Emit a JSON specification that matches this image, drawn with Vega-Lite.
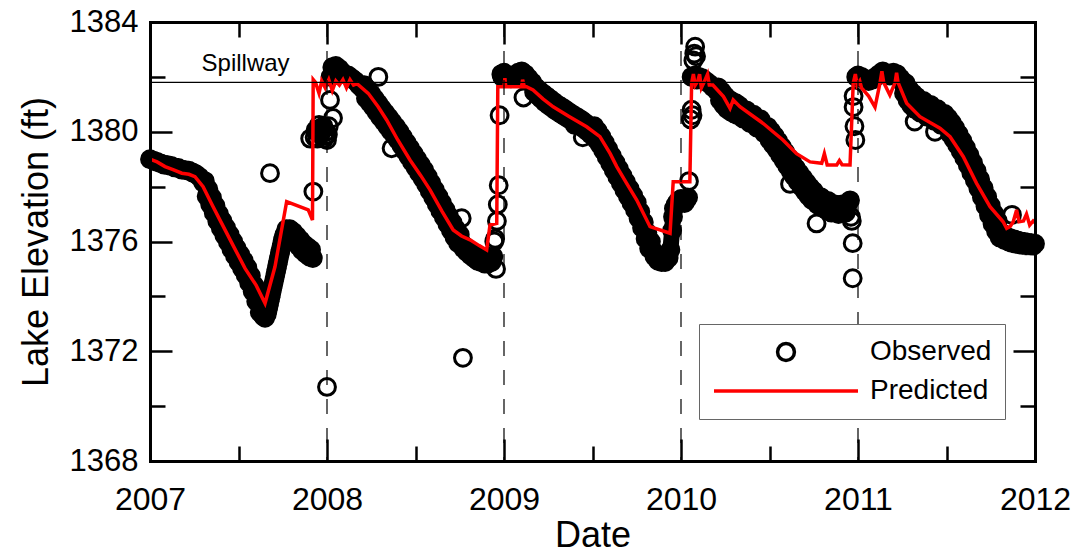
{
  "$schema": "https://vega.github.io/schema/vega-lite/v6.json",
  "width": 885,
  "height": 439,
  "autosize": "none",
  "padding": {"left": 150, "top": 22, "right": 47, "bottom": 93},
  "background": "white",
  "config": {
    "view": {"stroke": null},
    "font": "Liberation Sans"
  },
  "datasets": {
    "observed": [
      {"t":2007.00,"v":1379.00,"c":"2007"},{"t":2007.02,"v":1378.95,"c":"2007"},{"t":2007.04,"v":1378.90,"c":"2007"},{"t":2007.06,"v":1378.85,"c":"2007"},
      {"t":2007.08,"v":1378.80,"c":"2007"},{"t":2007.10,"v":1378.78,"c":"2007"},{"t":2007.12,"v":1378.75,"c":"2007"},{"t":2007.14,"v":1378.70,"c":"2007"},
      {"t":2007.16,"v":1378.68,"c":"2007"},{"t":2007.18,"v":1378.62,"c":"2007"},{"t":2007.20,"v":1378.60,"c":"2007"},{"t":2007.22,"v":1378.58,"c":"2007"},
      {"t":2007.24,"v":1378.52,"c":"2007"},{"t":2007.26,"v":1378.45,"c":"2007"},{"t":2007.28,"v":1378.35,"c":"2007"},{"t":2007.30,"v":1378.15,"c":"2007"},
      {"t":2007.31,"v":1378.20,"c":"2007"},{"t":2007.32,"v":1377.65,"c":"2007"},{"t":2007.33,"v":1377.90,"c":"2007"},{"t":2007.34,"v":1377.35,"c":"2007"},
      {"t":2007.35,"v":1377.60,"c":"2007"},{"t":2007.36,"v":1377.05,"c":"2007"},{"t":2007.37,"v":1377.30,"c":"2007"},{"t":2007.38,"v":1376.75,"c":"2007"},
      {"t":2007.39,"v":1377.00,"c":"2007"},{"t":2007.40,"v":1376.48,"c":"2007"},{"t":2007.41,"v":1376.75,"c":"2007"},{"t":2007.42,"v":1376.22,"c":"2007"},
      {"t":2007.43,"v":1376.50,"c":"2007"},{"t":2007.44,"v":1375.98,"c":"2007"},{"t":2007.45,"v":1376.25,"c":"2007"},{"t":2007.46,"v":1375.72,"c":"2007"},
      {"t":2007.47,"v":1376.00,"c":"2007"},{"t":2007.48,"v":1375.48,"c":"2007"},{"t":2007.49,"v":1375.75,"c":"2007"},{"t":2007.50,"v":1375.25,"c":"2007"},
      {"t":2007.51,"v":1375.53,"c":"2007"},{"t":2007.52,"v":1375.02,"c":"2007"},{"t":2007.53,"v":1375.30,"c":"2007"},{"t":2007.54,"v":1374.78,"c":"2007"},
      {"t":2007.55,"v":1375.05,"c":"2007"},{"t":2007.56,"v":1374.50,"c":"2007"},{"t":2007.57,"v":1374.75,"c":"2007"},{"t":2007.58,"v":1374.18,"c":"2007"},
      {"t":2007.59,"v":1374.40,"c":"2007"},{"t":2007.60,"v":1373.82,"c":"2007"},{"t":2007.61,"v":1374.02,"c":"2007"},{"t":2007.62,"v":1373.42,"c":"2007"},
      {"t":2007.63,"v":1373.62,"c":"2007"},{"t":2007.64,"v":1373.28,"c":"2007"},{"t":2007.65,"v":1373.22,"c":"2007"},{"t":2007.66,"v":1373.35,"c":"2007"},
      {"t":2007.665,"v":1373.50,"c":"2007"},{"t":2007.670,"v":1373.65,"c":"2007"},{"t":2007.675,"v":1373.80,"c":"2007"},{"t":2007.680,"v":1373.95,"c":"2007"},
      {"t":2007.685,"v":1374.10,"c":"2007"},{"t":2007.690,"v":1374.25,"c":"2007"},{"t":2007.695,"v":1374.40,"c":"2007"},{"t":2007.700,"v":1374.55,"c":"2007"},
      {"t":2007.705,"v":1374.70,"c":"2007"},{"t":2007.710,"v":1374.85,"c":"2007"},{"t":2007.715,"v":1375.00,"c":"2007"},{"t":2007.720,"v":1375.15,"c":"2007"},
      {"t":2007.725,"v":1375.30,"c":"2007"},{"t":2007.730,"v":1375.45,"c":"2007"},{"t":2007.735,"v":1375.60,"c":"2007"},{"t":2007.740,"v":1375.75,"c":"2007"},
      {"t":2007.745,"v":1375.90,"c":"2007"},{"t":2007.750,"v":1376.05,"c":"2007"},{"t":2007.755,"v":1376.15,"c":"2007"},{"t":2007.760,"v":1376.25,"c":"2007"},
      {"t":2007.77,"v":1376.45,"c":"2007"},{"t":2007.78,"v":1376.17,"c":"2007"},{"t":2007.79,"v":1376.45,"c":"2007"},{"t":2007.80,"v":1376.10,"c":"2007"},
      {"t":2007.81,"v":1376.35,"c":"2007"},{"t":2007.82,"v":1375.97,"c":"2007"},{"t":2007.83,"v":1376.20,"c":"2007"},{"t":2007.84,"v":1375.83,"c":"2007"},
      {"t":2007.85,"v":1376.05,"c":"2007"},{"t":2007.86,"v":1375.67,"c":"2007"},{"t":2007.87,"v":1375.90,"c":"2007"},{"t":2007.88,"v":1375.55,"c":"2007"},
      {"t":2007.89,"v":1375.80,"c":"2007"},{"t":2007.90,"v":1375.45,"c":"2007"},{"t":2007.91,"v":1375.70,"c":"2007"},{"t":2007.92,"v":1375.40,"c":"2007"},
      {"t":2007.93,"v":1379.80},{"t":2007.935,"v":1380.05},{"t":2007.94,"v":1380.00},{"t":2007.945,"v":1379.75},
      {"t":2007.95,"v":1380.10},{"t":2007.955,"v":1380.25},{"t":2007.96,"v":1379.90},{"t":2007.965,"v":1379.95},
      {"t":2007.97,"v":1380.00},{"t":2007.975,"v":1380.15},{"t":2007.98,"v":1380.20},{"t":2007.985,"v":1379.75},
      {"t":2007.99,"v":1379.85},{"t":2007.995,"v":1380.00},{"t":2008.00,"v":1379.70},{"t":2008.005,"v":1379.90},
      {"t":2008.01,"v":1380.20},{"t":2008.017,"v":1381.16},{"t":2008.034,"v":1380.50},
      {"t":2008.02,"v":1382.00,"c":"2008"},{"t":2008.03,"v":1382.35,"c":"2008"},{"t":2008.04,"v":1382.25,"c":"2008"},{"t":2008.05,"v":1382.40,"c":"2008"},
      {"t":2008.06,"v":1382.15,"c":"2008"},{"t":2008.07,"v":1382.30,"c":"2008"},{"t":2008.08,"v":1382.20,"c":"2008"},{"t":2008.10,"v":1382.10,"c":"2008"},
      {"t":2008.12,"v":1382.05,"c":"2008"},{"t":2008.14,"v":1381.95,"c":"2008"},{"t":2008.16,"v":1381.85,"c":"2008"},{"t":2008.18,"v":1381.70,"c":"2008"},
      {"t":2008.19,"v":1381.65,"c":"2008"},{"t":2008.20,"v":1381.58,"c":"2008"},{"t":2008.21,"v":1381.70,"c":"2008"},{"t":2008.22,"v":1381.22,"c":"2008"},
      {"t":2008.23,"v":1381.55,"c":"2008"},{"t":2008.24,"v":1381.07,"c":"2008"},{"t":2008.25,"v":1381.38,"c":"2008"},{"t":2008.26,"v":1380.90,"c":"2008"},
      {"t":2008.27,"v":1381.20,"c":"2008"},{"t":2008.28,"v":1380.72,"c":"2008"},{"t":2008.29,"v":1381.03,"c":"2008"},{"t":2008.30,"v":1380.54,"c":"2008"},
      {"t":2008.31,"v":1380.85,"c":"2008"},{"t":2008.32,"v":1380.37,"c":"2008"},{"t":2008.33,"v":1380.68,"c":"2008"},{"t":2008.34,"v":1380.20,"c":"2008"},
      {"t":2008.35,"v":1380.52,"c":"2008"},{"t":2008.36,"v":1380.03,"c":"2008"},{"t":2008.37,"v":1380.35,"c":"2008"},{"t":2008.38,"v":1379.86,"c":"2008"},
      {"t":2008.39,"v":1380.18,"c":"2008"},{"t":2008.40,"v":1379.70,"c":"2008"},{"t":2008.41,"v":1380.00,"c":"2008"},{"t":2008.42,"v":1379.50,"c":"2008"},
      {"t":2008.43,"v":1379.80,"c":"2008"},{"t":2008.44,"v":1379.30,"c":"2008"},{"t":2008.45,"v":1379.60,"c":"2008"},{"t":2008.46,"v":1379.10,"c":"2008"},
      {"t":2008.47,"v":1379.40,"c":"2008"},{"t":2008.48,"v":1378.90,"c":"2008"},{"t":2008.49,"v":1379.20,"c":"2008"},{"t":2008.50,"v":1378.70,"c":"2008"},
      {"t":2008.51,"v":1379.00,"c":"2008"},{"t":2008.52,"v":1378.50,"c":"2008"},{"t":2008.53,"v":1378.80,"c":"2008"},{"t":2008.54,"v":1378.30,"c":"2008"},
      {"t":2008.55,"v":1378.60,"c":"2008"},{"t":2008.56,"v":1378.08,"c":"2008"},{"t":2008.57,"v":1378.36,"c":"2008"},{"t":2008.58,"v":1377.84,"c":"2008"},
      {"t":2008.59,"v":1378.12,"c":"2008"},{"t":2008.60,"v":1377.60,"c":"2008"},{"t":2008.61,"v":1377.88,"c":"2008"},{"t":2008.62,"v":1377.36,"c":"2008"},
      {"t":2008.63,"v":1377.64,"c":"2008"},{"t":2008.64,"v":1377.12,"c":"2008"},{"t":2008.65,"v":1377.40,"c":"2008"},{"t":2008.66,"v":1376.88,"c":"2008"},
      {"t":2008.67,"v":1377.16,"c":"2008"},{"t":2008.68,"v":1376.64,"c":"2008"},{"t":2008.69,"v":1376.92,"c":"2008"},{"t":2008.70,"v":1376.40,"c":"2008"},
      {"t":2008.71,"v":1376.68,"c":"2008"},{"t":2008.72,"v":1376.16,"c":"2008"},{"t":2008.73,"v":1376.45,"c":"2008"},{"t":2008.74,"v":1375.95,"c":"2008"},
      {"t":2008.75,"v":1376.25,"c":"2008"},{"t":2008.76,"v":1375.96,"c":"2008"},{"t":2008.77,"v":1375.75,"c":"2008"},{"t":2008.78,"v":1375.82,"c":"2008"},
      {"t":2008.79,"v":1375.62,"c":"2008"},{"t":2008.80,"v":1375.70,"c":"2008"},{"t":2008.81,"v":1375.50,"c":"2008"},{"t":2008.82,"v":1375.60,"c":"2008"},
      {"t":2008.83,"v":1375.40,"c":"2008"},{"t":2008.84,"v":1375.52,"c":"2008"},{"t":2008.85,"v":1375.30,"c":"2008"},{"t":2008.86,"v":1375.45,"c":"2008"},
      {"t":2008.87,"v":1375.25,"c":"2008"},{"t":2008.88,"v":1375.40,"c":"2008"},{"t":2008.89,"v":1375.20,"c":"2008"},{"t":2008.90,"v":1375.35,"c":"2008"},
      {"t":2008.91,"v":1375.20,"c":"2008"},{"t":2008.92,"v":1375.35,"c":"2008"},{"t":2008.93,"v":1375.25,"c":"2008"},{"t":2008.94,"v":1375.45,"c":"2008"},
      {"t":2008.945,"v":1376.00},{"t":2008.950,"v":1376.10},{"t":2008.955,"v":1375.00},{"t":2008.960,"v":1376.75},
      {"t":2008.965,"v":1377.35},{"t":2008.970,"v":1378.05},{"t":2008.975,"v":1380.60},{"t":2008.985,"v":1382.10},
      {"t":2008.99,"v":1382.00,"c":"2009"},{"t":2009.00,"v":1382.15,"c":"2009"},{"t":2009.02,"v":1382.05,"c":"2009"},{"t":2009.04,"v":1381.95,"c":"2009"},
      {"t":2009.06,"v":1382.00,"c":"2009"},{"t":2009.08,"v":1382.15,"c":"2009"},{"t":2009.10,"v":1382.20,"c":"2009"},{"t":2009.11,"v":1381.25},
      {"t":2009.12,"v":1382.10,"c":"2009"},{"t":2009.14,"v":1381.95,"c":"2009"},{"t":2009.16,"v":1381.80,"c":"2009"},{"t":2009.18,"v":1381.62,"c":"2009"},
      {"t":2009.17,"v":1381.45,"c":"2009"},{"t":2009.19,"v":1381.32,"c":"2009"},{"t":2009.21,"v":1381.20,"c":"2009"},{"t":2009.23,"v":1381.08,"c":"2009"},
      {"t":2009.25,"v":1380.98,"c":"2009"},{"t":2009.27,"v":1380.88,"c":"2009"},{"t":2009.29,"v":1380.78,"c":"2009"},{"t":2009.31,"v":1380.70,"c":"2009"},
      {"t":2009.33,"v":1380.62,"c":"2009"},{"t":2009.35,"v":1380.54,"c":"2009"},{"t":2009.37,"v":1380.46,"c":"2009"},{"t":2009.39,"v":1380.38,"c":"2009"},
      {"t":2009.41,"v":1380.30,"c":"2009"},{"t":2009.43,"v":1380.22,"c":"2009"},{"t":2009.45,"v":1380.12,"c":"2009"},{"t":2009.47,"v":1380.02,"c":"2009"},
      {"t":2009.49,"v":1379.90,"c":"2009"},
      {"t":2009.20,"v":1381.50,"c":"2009"},{"t":2009.22,"v":1381.40,"c":"2009"},{"t":2009.24,"v":1381.30,"c":"2009"},{"t":2009.26,"v":1381.20,"c":"2009"},
      {"t":2009.28,"v":1381.10,"c":"2009"},{"t":2009.30,"v":1381.00,"c":"2009"},{"t":2009.32,"v":1380.92,"c":"2009"},{"t":2009.34,"v":1380.84,"c":"2009"},
      {"t":2009.36,"v":1380.75,"c":"2009"},{"t":2009.38,"v":1380.66,"c":"2009"},{"t":2009.40,"v":1380.58,"c":"2009"},{"t":2009.42,"v":1380.50,"c":"2009"},
      {"t":2009.44,"v":1380.42,"c":"2009"},{"t":2009.46,"v":1380.32,"c":"2009"},{"t":2009.48,"v":1380.20,"c":"2009"},{"t":2009.50,"v":1380.08,"c":"2009"},
      {"t":2009.51,"v":1380.20,"c":"2009"},{"t":2009.52,"v":1379.72,"c":"2009"},{"t":2009.53,"v":1380.03,"c":"2009"},{"t":2009.54,"v":1379.54,"c":"2009"},
      {"t":2009.55,"v":1379.83,"c":"2009"},{"t":2009.56,"v":1379.32,"c":"2009"},{"t":2009.57,"v":1379.60,"c":"2009"},{"t":2009.58,"v":1379.08,"c":"2009"},
      {"t":2009.59,"v":1379.36,"c":"2009"},{"t":2009.60,"v":1378.84,"c":"2009"},{"t":2009.61,"v":1379.12,"c":"2009"},{"t":2009.62,"v":1378.60,"c":"2009"},
      {"t":2009.63,"v":1378.88,"c":"2009"},{"t":2009.64,"v":1378.36,"c":"2009"},{"t":2009.65,"v":1378.64,"c":"2009"},{"t":2009.66,"v":1378.12,"c":"2009"},
      {"t":2009.67,"v":1378.40,"c":"2009"},{"t":2009.68,"v":1377.88,"c":"2009"},{"t":2009.69,"v":1378.16,"c":"2009"},{"t":2009.70,"v":1377.64,"c":"2009"},
      {"t":2009.71,"v":1377.92,"c":"2009"},{"t":2009.72,"v":1377.40,"c":"2009"},{"t":2009.73,"v":1377.68,"c":"2009"},{"t":2009.74,"v":1377.16,"c":"2009"},
      {"t":2009.75,"v":1377.42,"c":"2009"},{"t":2009.76,"v":1376.85,"c":"2009"},{"t":2009.77,"v":1377.08,"c":"2009"},{"t":2009.78,"v":1376.50,"c":"2009"},
      {"t":2009.79,"v":1376.70,"c":"2009"},{"t":2009.80,"v":1376.10,"c":"2009"},{"t":2009.81,"v":1376.32,"c":"2009"},{"t":2009.82,"v":1375.75,"c":"2009"},
      {"t":2009.83,"v":1376.00,"c":"2009"},{"t":2009.84,"v":1375.68,"c":"2009"},{"t":2009.85,"v":1375.45,"c":"2009"},{"t":2009.86,"v":1375.52,"c":"2009"},
      {"t":2009.87,"v":1375.30,"c":"2009"},{"t":2009.88,"v":1375.42,"c":"2009"},{"t":2009.89,"v":1375.25,"c":"2009"},{"t":2009.90,"v":1375.38,"c":"2009"},
      {"t":2009.91,"v":1375.25,"c":"2009"},{"t":2009.92,"v":1375.42,"c":"2009"},{"t":2009.93,"v":1375.40,"c":"2009"},{"t":2009.94,"v":1375.70,"c":"2009"},
      {"t":2009.95,"v":1376.40,"c":"2009"},{"t":2009.955,"v":1376.90,"c":"2009"},{"t":2009.96,"v":1377.20,"c":"2009"},{"t":2009.97,"v":1377.35,"c":"2009"},
      {"t":2009.98,"v":1377.45,"c":"2009"},{"t":2009.99,"v":1377.50,"c":"2009"},{"t":2010.00,"v":1377.55,"c":"2009"},{"t":2010.01,"v":1377.45,"c":"2009"},
      {"t":2010.02,"v":1377.40,"c":"2009"},{"t":2010.03,"v":1377.50,"c":"2009"},{"t":2010.04,"v":1377.60,"c":"2009"},{"t":2010.045,"v":1378.20},
      {"t":2010.055,"v":1380.45},{"t":2010.06,"v":1380.80},{"t":2010.065,"v":1380.60},{"t":2010.07,"v":1382.60},
      {"t":2010.075,"v":1382.85},{"t":2010.08,"v":1383.10},{"t":2010.085,"v":1382.75},
      {"t":2010.06,"v":1382.00,"c":"2010"},{"t":2010.08,"v":1382.05,"c":"2010"},{"t":2010.09,"v":1381.90,"c":"2010"},{"t":2010.10,"v":1382.00,"c":"2010"},
      {"t":2010.12,"v":1381.95,"c":"2010"},{"t":2010.14,"v":1381.85,"c":"2010"},{"t":2010.16,"v":1381.75,"c":"2010"},{"t":2010.18,"v":1381.62,"c":"2010"},
      {"t":2010.20,"v":1381.50,"c":"2010"},{"t":2010.21,"v":1381.62,"c":"2010"},{"t":2010.22,"v":1381.15,"c":"2010"},{"t":2010.23,"v":1381.47,"c":"2010"},
      {"t":2010.24,"v":1380.98,"c":"2010"},{"t":2010.25,"v":1381.30,"c":"2010"},{"t":2010.26,"v":1380.83,"c":"2010"},{"t":2010.27,"v":1381.18,"c":"2010"},
      {"t":2010.28,"v":1380.74,"c":"2010"},{"t":2010.29,"v":1381.10,"c":"2010"},{"t":2010.30,"v":1380.67,"c":"2010"},{"t":2010.31,"v":1381.04,"c":"2010"},
      {"t":2010.32,"v":1380.60,"c":"2010"},{"t":2010.33,"v":1380.95,"c":"2010"},{"t":2010.34,"v":1380.72,"c":"2010"},{"t":2010.35,"v":1380.48,"c":"2010"},
      {"t":2010.36,"v":1380.64,"c":"2010"},{"t":2010.37,"v":1380.78,"c":"2010"},{"t":2010.38,"v":1380.55,"c":"2010"},{"t":2010.39,"v":1380.32,"c":"2010"},
      {"t":2010.40,"v":1380.47,"c":"2010"},{"t":2010.41,"v":1380.62,"c":"2010"},{"t":2010.42,"v":1380.38,"c":"2010"},{"t":2010.43,"v":1380.15,"c":"2010"},
      {"t":2010.44,"v":1380.29,"c":"2010"},{"t":2010.45,"v":1380.45,"c":"2010"},{"t":2010.46,"v":1380.18,"c":"2010"},{"t":2010.47,"v":1379.95,"c":"2010"},
      {"t":2010.48,"v":1380.06,"c":"2010"},{"t":2010.49,"v":1380.18,"c":"2010"},{"t":2010.50,"v":1379.70,"c":"2010"},{"t":2010.51,"v":1380.02,"c":"2010"},
      {"t":2010.52,"v":1379.53,"c":"2010"},{"t":2010.53,"v":1379.84,"c":"2010"},{"t":2010.54,"v":1379.35,"c":"2010"},{"t":2010.55,"v":1379.65,"c":"2010"},
      {"t":2010.56,"v":1379.15,"c":"2010"},{"t":2010.57,"v":1379.45,"c":"2010"},{"t":2010.58,"v":1378.95,"c":"2010"},{"t":2010.59,"v":1379.25,"c":"2010"},
      {"t":2010.60,"v":1378.75,"c":"2010"},{"t":2010.61,"v":1379.05,"c":"2010"},{"t":2010.62,"v":1378.55,"c":"2010"},{"t":2010.63,"v":1378.85,"c":"2010"},
      {"t":2010.64,"v":1378.36,"c":"2010"},{"t":2010.65,"v":1378.67,"c":"2010"},{"t":2010.66,"v":1378.18,"c":"2010"},{"t":2010.67,"v":1378.49,"c":"2010"},
      {"t":2010.68,"v":1378.00,"c":"2010"},{"t":2010.69,"v":1378.31,"c":"2010"},{"t":2010.70,"v":1377.82,"c":"2010"},{"t":2010.71,"v":1378.14,"c":"2010"},
      {"t":2010.72,"v":1377.66,"c":"2010"},{"t":2010.73,"v":1377.98,"c":"2010"},{"t":2010.74,"v":1377.51,"c":"2010"},{"t":2010.75,"v":1377.84,"c":"2010"},
      {"t":2010.76,"v":1377.57,"c":"2010"},{"t":2010.77,"v":1377.35,"c":"2010"},{"t":2010.78,"v":1377.47,"c":"2010"},{"t":2010.79,"v":1377.62,"c":"2010"},
      {"t":2010.80,"v":1377.38,"c":"2010"},{"t":2010.81,"v":1377.20,"c":"2010"},{"t":2010.82,"v":1377.30,"c":"2010"},{"t":2010.83,"v":1377.48,"c":"2010"},
      {"t":2010.84,"v":1377.23,"c":"2010"},{"t":2010.85,"v":1377.05,"c":"2010"},{"t":2010.86,"v":1377.18,"c":"2010"},{"t":2010.87,"v":1377.35,"c":"2010"},
      {"t":2010.88,"v":1377.14,"c":"2010"},{"t":2010.89,"v":1377.00,"c":"2010"},{"t":2010.90,"v":1377.15,"c":"2010"},{"t":2010.91,"v":1377.35,"c":"2010"},
      {"t":2010.92,"v":1377.20,"c":"2010"},{"t":2010.93,"v":1377.05,"c":"2010"},{"t":2010.94,"v":1377.30,"c":"2010"},{"t":2010.955,"v":1377.50,"c":"2010"},
      {"t":2010.616,"v":1378.10},{"t":2010.766,"v":1376.66},{"t":2010.96,"v":1376.90},{"t":2010.965,"v":1376.75},
      {"t":2010.97,"v":1375.94},{"t":2010.97,"v":1374.66},
      {"t":2010.975,"v":1380.90},{"t":2010.98,"v":1380.20},{"t":2010.985,"v":1379.70},{"t":2010.975,"v":1381.30},
      {"t":2010.99,"v":1382.00,"c":"2011"},{"t":2011.00,"v":1382.05,"c":"2011"},{"t":2011.02,"v":1382.00,"c":"2011"},{"t":2011.04,"v":1381.90,"c":"2011"},
      {"t":2011.06,"v":1381.85,"c":"2011"},{"t":2011.08,"v":1381.90,"c":"2011"},{"t":2011.10,"v":1382.00,"c":"2011"},{"t":2011.12,"v":1382.10,"c":"2011"},
      {"t":2011.14,"v":1382.20,"c":"2011"},{"t":2011.16,"v":1382.10,"c":"2011"},{"t":2011.18,"v":1382.05,"c":"2011"},{"t":2011.20,"v":1382.15,"c":"2011"},
      {"t":2011.22,"v":1382.10,"c":"2011"},{"t":2011.24,"v":1381.95,"c":"2011"},{"t":2011.25,"v":1381.80,"c":"2011"},{"t":2011.26,"v":1381.40,"c":"2011"},
      {"t":2011.27,"v":1381.77,"c":"2011"},{"t":2011.28,"v":1381.15,"c":"2011"},{"t":2011.29,"v":1381.55,"c":"2011"},{"t":2011.30,"v":1380.97,"c":"2011"},
      {"t":2011.31,"v":1381.40,"c":"2011"},{"t":2011.32,"v":1380.83,"c":"2011"},{"t":2011.33,"v":1381.28,"c":"2011"},{"t":2011.34,"v":1380.98,"c":"2011"},
      {"t":2011.35,"v":1380.70,"c":"2011"},{"t":2011.36,"v":1380.90,"c":"2011"},{"t":2011.37,"v":1381.12,"c":"2011"},{"t":2011.38,"v":1380.82,"c":"2011"},
      {"t":2011.39,"v":1380.55,"c":"2011"},{"t":2011.40,"v":1380.74,"c":"2011"},{"t":2011.41,"v":1380.98,"c":"2011"},{"t":2011.42,"v":1380.66,"c":"2011"},
      {"t":2011.43,"v":1380.40,"c":"2011"},{"t":2011.44,"v":1380.58,"c":"2011"},{"t":2011.45,"v":1380.82,"c":"2011"},{"t":2011.46,"v":1380.50,"c":"2011"},
      {"t":2011.47,"v":1380.25,"c":"2011"},{"t":2011.48,"v":1380.42,"c":"2011"},{"t":2011.49,"v":1380.65,"c":"2011"},{"t":2011.50,"v":1380.32,"c":"2011"},
      {"t":2011.51,"v":1380.50,"c":"2011"},{"t":2011.52,"v":1379.92,"c":"2011"},{"t":2011.53,"v":1380.33,"c":"2011"},{"t":2011.54,"v":1379.73,"c":"2011"},
      {"t":2011.55,"v":1380.13,"c":"2011"},{"t":2011.56,"v":1379.52,"c":"2011"},{"t":2011.57,"v":1379.91,"c":"2011"},{"t":2011.58,"v":1379.29,"c":"2011"},
      {"t":2011.59,"v":1379.67,"c":"2011"},{"t":2011.60,"v":1379.05,"c":"2011"},{"t":2011.61,"v":1379.42,"c":"2011"},{"t":2011.62,"v":1378.79,"c":"2011"},
      {"t":2011.63,"v":1379.15,"c":"2011"},{"t":2011.64,"v":1378.51,"c":"2011"},{"t":2011.65,"v":1378.87,"c":"2011"},{"t":2011.66,"v":1378.23,"c":"2011"},
      {"t":2011.67,"v":1378.58,"c":"2011"},{"t":2011.68,"v":1377.93,"c":"2011"},{"t":2011.69,"v":1378.27,"c":"2011"},{"t":2011.70,"v":1377.61,"c":"2011"},
      {"t":2011.71,"v":1377.95,"c":"2011"},{"t":2011.72,"v":1377.29,"c":"2011"},{"t":2011.73,"v":1377.63,"c":"2011"},{"t":2011.74,"v":1376.97,"c":"2011"},
      {"t":2011.75,"v":1377.31,"c":"2011"},{"t":2011.76,"v":1376.65,"c":"2011"},{"t":2011.77,"v":1377.01,"c":"2011"},{"t":2011.78,"v":1376.37,"c":"2011"},
      {"t":2011.79,"v":1376.75,"c":"2011"},{"t":2011.80,"v":1376.15,"c":"2011"},{"t":2011.81,"v":1376.32,"c":"2011"},{"t":2011.82,"v":1376.26,"c":"2011"},
      {"t":2011.83,"v":1376.05,"c":"2011"},{"t":2011.84,"v":1376.18,"c":"2011"},{"t":2011.85,"v":1376.00,"c":"2011"},{"t":2011.86,"v":1376.12,"c":"2011"},
      {"t":2011.87,"v":1375.95,"c":"2011"},{"t":2011.88,"v":1376.08,"c":"2011"},{"t":2011.89,"v":1375.92,"c":"2011"},{"t":2011.90,"v":1376.04,"c":"2011"},
      {"t":2011.91,"v":1375.90,"c":"2011"},{"t":2011.92,"v":1376.00,"c":"2011"},{"t":2011.93,"v":1375.88,"c":"2011"},{"t":2011.94,"v":1375.98,"c":"2011"},
      {"t":2011.95,"v":1375.86,"c":"2011"},{"t":2011.96,"v":1375.96,"c":"2011"},{"t":2011.97,"v":1375.86,"c":"2011"},{"t":2011.98,"v":1375.94,"c":"2011"},
      {"t":2011.99,"v":1375.85,"c":"2011"},{"t":2012.00,"v":1375.92,"c":"2011"},
      {"t":2007.678,"v":1378.49},{"t":2007.923,"v":1377.82},{"t":2007.905,"v":1379.75},
      {"t":2008.00,"v":1370.70},{"t":2008.768,"v":1371.76},{"t":2008.761,"v":1376.85},{"t":2008.29,"v":1382.00},
      {"t":2008.365,"v":1379.40},{"t":2009.40,"v":1380.25},{"t":2009.445,"v":1379.80},
      {"t":2011.32,"v":1380.37},{"t":2011.435,"v":1380.00},{"t":2011.87,"v":1376.97}
    ],
    "predicted": [
      {"t":2007.000,"v":1379.00},{"t":2007.040,"v":1378.90},{"t":2007.085,"v":1378.73},{"t":2007.130,"v":1378.62},
      {"t":2007.180,"v":1378.49},{"t":2007.220,"v":1378.45},{"t":2007.254,"v":1378.36},{"t":2007.300,"v":1378.00},
      {"t":2007.350,"v":1377.35},{"t":2007.405,"v":1376.66},{"t":2007.470,"v":1375.85},{"t":2007.537,"v":1375.02},
      {"t":2007.600,"v":1374.40},{"t":2007.650,"v":1373.75},{"t":2007.706,"v":1375.08},{"t":2007.740,"v":1376.30},
      {"t":2007.772,"v":1377.45},{"t":2007.894,"v":1377.15},{"t":2007.918,"v":1376.78},{"t":2007.922,"v":1381.90},
      {"t":2007.935,"v":1381.80},{"t":2007.955,"v":1381.40},{"t":2007.970,"v":1381.85},{"t":2007.990,"v":1381.60},
      {"t":2008.010,"v":1381.90},{"t":2008.030,"v":1381.50},{"t":2008.050,"v":1381.85},{"t":2008.070,"v":1381.70},
      {"t":2008.090,"v":1381.90},{"t":2008.110,"v":1381.60},{"t":2008.130,"v":1381.90},{"t":2008.150,"v":1381.70},
      {"t":2008.170,"v":1381.75},{"t":2008.233,"v":1381.40},{"t":2008.290,"v":1380.90},{"t":2008.337,"v":1380.43},
      {"t":2008.400,"v":1379.70},{"t":2008.469,"v":1378.97},{"t":2008.530,"v":1378.40},{"t":2008.582,"v":1377.88},
      {"t":2008.650,"v":1377.10},{"t":2008.713,"v":1376.42},{"t":2008.760,"v":1376.20},{"t":2008.808,"v":1376.06},
      {"t":2008.860,"v":1375.85},{"t":2008.902,"v":1375.69},{"t":2008.921,"v":1376.60},{"t":2008.959,"v":1376.66},
      {"t":2008.965,"v":1381.64},{"t":2009.000,"v":1381.64},{"t":2009.005,"v":1381.95},{"t":2009.010,"v":1381.64},
      {"t":2009.100,"v":1381.64},{"t":2009.105,"v":1381.90},{"t":2009.115,"v":1381.64},{"t":2009.127,"v":1381.64},
      {"t":2009.164,"v":1381.52},{"t":2009.220,"v":1381.20},{"t":2009.278,"v":1380.91},{"t":2009.370,"v":1380.55},
      {"t":2009.467,"v":1380.18},{"t":2009.542,"v":1379.82},{"t":2009.600,"v":1379.20},{"t":2009.637,"v":1378.73},
      {"t":2009.693,"v":1378.12},{"t":2009.750,"v":1377.51},{"t":2009.825,"v":1376.54},{"t":2009.938,"v":1376.30},
      {"t":2009.956,"v":1378.18},{"t":2010.050,"v":1378.18},{"t":2010.060,"v":1381.77},{"t":2010.070,"v":1382.10},
      {"t":2010.080,"v":1381.70},{"t":2010.095,"v":1381.85},{"t":2010.105,"v":1382.10},{"t":2010.115,"v":1381.60},
      {"t":2010.130,"v":1381.80},{"t":2010.150,"v":1382.10},{"t":2010.160,"v":1381.70},{"t":2010.180,"v":1381.70},
      {"t":2010.240,"v":1381.28},{"t":2010.277,"v":1380.85},{"t":2010.295,"v":1381.16},{"t":2010.333,"v":1380.91},
      {"t":2010.400,"v":1380.60},{"t":2010.465,"v":1380.30},{"t":2010.520,"v":1380.00},{"t":2010.576,"v":1379.70},
      {"t":2010.653,"v":1379.20},{"t":2010.729,"v":1378.90},{"t":2010.795,"v":1378.85},{"t":2010.810,"v":1379.20},
      {"t":2010.826,"v":1378.79},{"t":2010.880,"v":1378.79},{"t":2010.895,"v":1378.95},{"t":2010.910,"v":1378.80},
      {"t":2010.955,"v":1378.79},{"t":2010.973,"v":1381.77},{"t":2010.985,"v":1382.10},{"t":2010.995,"v":1381.70},
      {"t":2011.010,"v":1381.85},{"t":2011.020,"v":1381.60},{"t":2011.060,"v":1381.30},{"t":2011.096,"v":1380.90},
      {"t":2011.125,"v":1381.80},{"t":2011.135,"v":1382.20},{"t":2011.145,"v":1381.80},{"t":2011.180,"v":1381.34},
      {"t":2011.210,"v":1381.80},{"t":2011.218,"v":1382.15},{"t":2011.226,"v":1381.80},{"t":2011.275,"v":1381.04},
      {"t":2011.350,"v":1380.55},{"t":2011.463,"v":1380.13},{"t":2011.520,"v":1379.82},{"t":2011.595,"v":1379.09},
      {"t":2011.670,"v":1378.12},{"t":2011.746,"v":1377.27},{"t":2011.820,"v":1376.72},{"t":2011.840,"v":1376.48},
      {"t":2011.860,"v":1376.55},{"t":2011.877,"v":1376.72},{"t":2011.896,"v":1377.15},{"t":2011.910,"v":1376.72},
      {"t":2011.935,"v":1376.75},{"t":2011.952,"v":1377.00},{"t":2011.970,"v":1376.60},{"t":2011.990,"v":1376.75},
      {"t":2012.000,"v":1376.70}
    ],
    "years": [{"t":2008},{"t":2009},{"t":2010},{"t":2011}],
    "spillway": [{"v":1381.8}],
    "note": [{"t":2007.54,"v":1382.2,"label":"Spillway"}]
  },
  "resolve": {"axis": {"x": "independent", "y": "independent"}},
  "layer": [
    {
      "data": {"name": "observed"},
      "transform": [{"filter": "isValid(datum.c)"}],
      "mark": {"type": "line", "color": "#000000", "strokeWidth": 16, "strokeJoin": "round", "strokeCap": "round"},
      "encoding": {
        "x": {"field": "t", "type": "quantitative", "scale": {"domain": [2007, 2012], "nice": false, "zero": false}, "axis": null},
        "y": {"field": "v", "type": "quantitative", "scale": {"domain": [1368, 1384], "nice": false, "zero": false}, "axis": null},
        "detail": {"field": "c"}
      }
    },
    {
      "data": {"name": "observed"},
      "mark": {"type": "point", "filled": false, "strokeWidth": 3, "opacity": 1},
      "encoding": {
        "x": {
          "field": "t", "type": "quantitative",
          "scale": {"domain": [2007, 2012], "nice": false, "zero": false},
          "axis": {
            "orient": "bottom", "values": [2007, 2008, 2009, 2010, 2011, 2012], "format": "d",
            "grid": false, "domain": true, "domainColor": "black", "domainWidth": 3, "domainCap": "square",
            "ticks": true, "tickSize": -22, "tickWidth": 2.5, "tickColor": "black", "tickCap": "butt",
            "labelFont": "Liberation Sans", "labelFontSize": 32, "labelColor": "black", "labelPadding": 45,
            "labelFlush": false, "labelOverlap": false, "labelDx": 3,
            "title": "Date", "titleFont": "Liberation Sans", "titleFontSize": 36, "titleFontWeight": "normal",
            "titleColor": "black", "titlePadding": 3, "zindex": 1
          }
        },
        "y": {
          "field": "v", "type": "quantitative",
          "scale": {"domain": [1368, 1384], "nice": false, "zero": false},
          "axis": {
            "orient": "left", "values": [1368, 1372, 1376, 1380, 1384], "format": "d",
            "grid": false, "domain": true, "domainColor": "black", "domainWidth": 3, "domainCap": "square",
            "ticks": true, "tickSize": -22, "tickWidth": 2.5, "tickColor": "black", "tickCap": "butt",
            "labelFont": "Liberation Sans", "labelFontSize": 31, "labelColor": "black", "labelPadding": 34,
            "labelFlush": false, "labelOverlap": false,
            "title": "Lake Elevation (ft)", "titleFont": "Liberation Sans", "titleFontSize": 36,
            "titleFontWeight": "normal", "titleColor": "black", "titlePadding": 14, "zindex": 1
          }
        },
        "color": {
          "datum": "Observed", "type": "nominal",
          "scale": {"domain": ["Observed", "Predicted"], "range": ["#000000", "#ff0000"]},
          "legend": {
            "title": null, "orient": "none", "legendX": 549, "legendY": 302,
            "direction": "vertical", "columns": 1, "padding": 13,
            "strokeColor": "#666666", "fillColor": "white",
            "labelFont": "Liberation Sans", "labelFontSize": 28, "labelColor": "black",
            "labelOffset": 10, "labelLimit": 300, "rowPadding": 9, "clipHeight": 30,
            "symbolStrokeWidth": 3.5
          }
        },
        "shape": {
          "datum": "Observed", "type": "nominal",
          "scale": {"domain": ["Observed", "Predicted"], "range": ["circle", "stroke"]},
          "legend": {
            "title": null, "orient": "none", "legendX": 549, "legendY": 302,
            "direction": "vertical", "columns": 1, "padding": 13,
            "strokeColor": "#666666", "fillColor": "white",
            "labelFont": "Liberation Sans", "labelFontSize": 28, "labelColor": "black",
            "labelOffset": 10, "labelLimit": 300, "rowPadding": 9, "clipHeight": 30,
            "symbolStrokeWidth": 3.5
          }
        },
        "size": {
          "datum": "Observed", "type": "nominal",
          "scale": {"type": "point", "padding": 0, "domain": ["Observed", "Predicted"], "range": [284, 20736]},
          "legend": {
            "title": null, "orient": "none", "legendX": 549, "legendY": 302,
            "direction": "vertical", "columns": 1, "padding": 13,
            "strokeColor": "#666666", "fillColor": "white",
            "labelFont": "Liberation Sans", "labelFontSize": 28, "labelColor": "black",
            "labelOffset": 10, "labelLimit": 300, "rowPadding": 9, "clipHeight": 30,
            "symbolStrokeWidth": 3.5
          }
        }
      }
    },
    {
      "data": {"name": "predicted"},
      "mark": {"type": "line", "strokeWidth": 3.5},
      "encoding": {
        "x": {
          "field": "t", "type": "quantitative",
          "scale": {"domain": [2007, 2012], "nice": false, "zero": false},
          "axis": {
            "orient": "bottom", "values": [2007.5, 2008.5, 2009.5, 2010.5, 2011.5],
            "grid": false, "domain": false, "labels": false, "title": null,
            "ticks": true, "tickSize": -15, "tickWidth": 2.5, "tickColor": "black", "tickCap": "butt", "zindex": 1
          }
        },
        "y": {
          "field": "v", "type": "quantitative",
          "scale": {"domain": [1368, 1384], "nice": false, "zero": false},
          "axis": {
            "orient": "left", "values": [1370, 1374, 1378, 1382],
            "grid": false, "domain": false, "labels": false, "title": null,
            "ticks": true, "tickSize": -15, "tickWidth": 2.5, "tickColor": "black", "tickCap": "butt", "zindex": 1
          }
        },
        "color": {
          "datum": "Predicted", "type": "nominal",
          "scale": {"domain": ["Observed", "Predicted"], "range": ["#000000", "#ff0000"]},
          "legend": {
            "title": null, "orient": "none", "legendX": 549, "legendY": 302,
            "direction": "vertical", "columns": 1, "padding": 13,
            "strokeColor": "#666666", "fillColor": "white",
            "labelFont": "Liberation Sans", "labelFontSize": 28, "labelColor": "black",
            "labelOffset": 10, "labelLimit": 300, "rowPadding": 9, "clipHeight": 30,
            "symbolStrokeWidth": 3.5
          }
        }
      }
    },
    {
      "data": {"name": "years"},
      "mark": {"type": "rule", "color": "black", "strokeWidth": 1.2, "strokeDash": [15, 14]},
      "encoding": {
        "x": {
          "field": "t", "type": "quantitative",
          "scale": {"domain": [2007, 2012], "nice": false, "zero": false},
          "axis": {
            "orient": "top", "values": [2008, 2009, 2010, 2011],
            "grid": false, "domain": true, "domainColor": "black", "domainWidth": 3, "domainCap": "square",
            "labels": false, "title": null,
            "ticks": true, "tickSize": -22, "tickWidth": 2.5, "tickColor": "black", "tickCap": "butt", "zindex": 1
          }
        }
      }
    },
    {
      "data": {"name": "spillway"},
      "mark": {"type": "rule", "color": "black", "strokeWidth": 1.2},
      "encoding": {
        "y": {
          "field": "v", "type": "quantitative",
          "scale": {"domain": [1368, 1384], "nice": false, "zero": false},
          "axis": {
            "orient": "right", "values": [1372, 1376, 1380],
            "grid": false, "domain": true, "domainColor": "black", "domainWidth": 3, "domainCap": "square",
            "labels": false, "title": null,
            "ticks": true, "tickSize": -22, "tickWidth": 2.5, "tickColor": "black", "tickCap": "butt", "zindex": 1
          }
        }
      }
    },
    {
      "data": {"name": "note"},
      "mark": {"type": "text", "font": "Liberation Sans", "fontSize": 24, "align": "center", "baseline": "alphabetic", "color": "black"},
      "encoding": {
        "x": {
          "field": "t", "type": "quantitative",
          "scale": {"domain": [2007, 2012], "nice": false, "zero": false},
          "axis": {
            "orient": "top", "values": [2007.5, 2008.5, 2009.5, 2010.5, 2011.5],
            "grid": false, "domain": false, "labels": false, "title": null,
            "ticks": true, "tickSize": -15, "tickWidth": 2.5, "tickColor": "black", "tickCap": "butt", "zindex": 1
          }
        },
        "y": {
          "field": "v", "type": "quantitative",
          "scale": {"domain": [1368, 1384], "nice": false, "zero": false},
          "axis": {
            "orient": "right", "values": [1370, 1374, 1378, 1382],
            "grid": false, "domain": false, "labels": false, "title": null,
            "ticks": true, "tickSize": -15, "tickWidth": 2.5, "tickColor": "black", "tickCap": "butt", "zindex": 1
          }
        },
        "text": {"field": "label"}
      }
    }
  ]
}
